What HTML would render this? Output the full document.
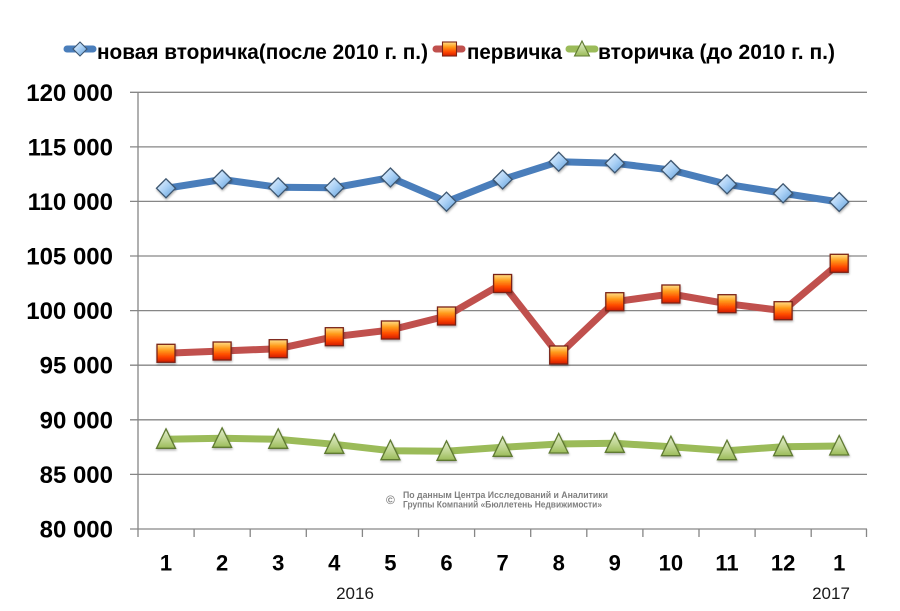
<!DOCTYPE html>
<html>
<head>
<meta charset="utf-8">
<style>
  html,body{margin:0;padding:0;background:#fff;}
  svg{display:block;}
  text{font-family:"Liberation Sans","DejaVu Sans",sans-serif;}
</style>
</head>
<body>
<svg width="900" height="611" viewBox="0 0 900 611" xmlns="http://www.w3.org/2000/svg">
  <defs>
    <linearGradient id="gBlue" x1="0" y1="0" x2="1" y2="1">
      <stop offset="0" stop-color="#eef6ff"/>
      <stop offset="0.5" stop-color="#a9d0f5"/>
      <stop offset="1" stop-color="#5e9bd6"/>
    </linearGradient>
    <linearGradient id="gRed" x1="0" y1="0" x2="0" y2="1">
      <stop offset="0" stop-color="#ffe08a"/>
      <stop offset="0.35" stop-color="#ff9a1a"/>
      <stop offset="0.7" stop-color="#ff4a00"/>
      <stop offset="1" stop-color="#d21a00"/>
    </linearGradient>
    <linearGradient id="gGreen" x1="0" y1="0" x2="0" y2="1">
      <stop offset="0" stop-color="#e4eed0"/>
      <stop offset="0.6" stop-color="#bcd38c"/>
      <stop offset="1" stop-color="#9bbb59"/>
    </linearGradient>
    <filter id="sh" x="-30%" y="-30%" width="160%" height="160%">
      <feDropShadow dx="0.5" dy="1.5" stdDeviation="1" flood-color="#000" flood-opacity="0.3"/>
    </filter>
    <g id="dia"><path d="M0,-9.5 L9.5,0 L0,9.5 L-9.5,0 Z" fill="url(#gBlue)" stroke="#3d5670" stroke-width="1.3"/></g>
    <g id="sq"><rect x="-9" y="-9" width="18" height="18" fill="url(#gRed)" stroke="#7a2414" stroke-width="1.3"/></g>
    <g id="tri"><path d="M0,-10.5 L9.5,9 L-9.5,9 Z" fill="url(#gGreen)" stroke="#5f7a30" stroke-width="1.3"/></g>
  </defs>

  <!-- Gridlines -->
  <g stroke="#868686" stroke-width="1.3">
    <line x1="130" y1="92.3" x2="867" y2="92.3"/>
    <line x1="130" y1="146.9" x2="867" y2="146.9"/>
    <line x1="130" y1="201.4" x2="867" y2="201.4"/>
    <line x1="130" y1="256" x2="867" y2="256"/>
    <line x1="130" y1="310.6" x2="867" y2="310.6"/>
    <line x1="130" y1="365.2" x2="867" y2="365.2"/>
    <line x1="130" y1="419.8" x2="867" y2="419.8"/>
    <line x1="130" y1="474.4" x2="867" y2="474.4"/>
    <line x1="130" y1="529" x2="867" y2="529"/>
    <line x1="138" y1="92.3" x2="138" y2="537"/>
    <!-- x ticks -->
    <line x1="194.1" y1="529" x2="194.1" y2="537"/>
    <line x1="250.2" y1="529" x2="250.2" y2="537"/>
    <line x1="306.3" y1="529" x2="306.3" y2="537"/>
    <line x1="362.4" y1="529" x2="362.4" y2="537"/>
    <line x1="418.5" y1="529" x2="418.5" y2="537"/>
    <line x1="474.6" y1="529" x2="474.6" y2="537"/>
    <line x1="530.7" y1="529" x2="530.7" y2="537"/>
    <line x1="586.8" y1="529" x2="586.8" y2="537"/>
    <line x1="642.9" y1="529" x2="642.9" y2="537"/>
    <line x1="699" y1="529" x2="699" y2="537"/>
    <line x1="755.1" y1="529" x2="755.1" y2="537"/>
    <line x1="811.2" y1="529" x2="811.2" y2="537"/>
    <line x1="866.5" y1="529" x2="866.5" y2="537"/>
  </g>

  <!-- Y labels -->
  <g font-size="24" font-weight="bold" fill="#000" text-anchor="end">
    <text x="113" y="101">120 000</text>
    <text x="113" y="155.5">115 000</text>
    <text x="113" y="210">110 000</text>
    <text x="113" y="264.5">105 000</text>
    <text x="113" y="319">100 000</text>
    <text x="113" y="373.5">95 000</text>
    <text x="113" y="428.5">90 000</text>
    <text x="113" y="483">85 000</text>
    <text x="113" y="537.5">80 000</text>
  </g>

  <!-- X labels -->
  <g font-size="22" font-weight="bold" fill="#000" text-anchor="middle">
    <text x="166" y="570.5">1</text>
    <text x="222.1" y="570.5">2</text>
    <text x="278.2" y="570.5">3</text>
    <text x="334.3" y="570.5">4</text>
    <text x="390.4" y="570.5">5</text>
    <text x="446.5" y="570.5">6</text>
    <text x="502.6" y="570.5">7</text>
    <text x="558.7" y="570.5">8</text>
    <text x="614.8" y="570.5">9</text>
    <text x="670.9" y="570.5">10</text>
    <text x="727" y="570.5">11</text>
    <text x="783.1" y="570.5">12</text>
    <text x="839.2" y="570.5">1</text>
  </g>
  <g font-size="17" fill="#1a1a1a" text-anchor="middle">
    <text x="355" y="599">2016</text>
    <text x="831" y="599">2017</text>
  </g>

  <!-- Watermark -->
  <g fill="#7f7f7f">
    <text x="386" y="504" font-size="12" font-weight="bold">©</text>
    <text x="403" y="498" font-size="9.5" font-weight="bold" textLength="205" lengthAdjust="spacingAndGlyphs">По данным Центра Исследований и Аналитики</text>
    <text x="403" y="507.5" font-size="9.5" font-weight="bold" textLength="199" lengthAdjust="spacingAndGlyphs">Группы Компаний «Бюллетень Недвижимости»</text>
  </g>

  <!-- Series lines -->
  <g fill="none" stroke-width="7" stroke-linejoin="round" stroke-linecap="round">
    <polyline stroke="#4a7ebb" points="166,188.3 222.1,179.5 278.2,187.3 334.3,187.7 390.4,177.5 446.5,201.7 502.6,179.5 558.7,161.7 614.8,163.3 670.9,170 727,184.3 783.1,193.3 839.2,202"/>
    <polyline stroke="#c0504d" points="166,353.3 222.1,351 278.2,348.7 334.3,336.7 390.4,330 446.5,316 502.6,283.5 558.7,355 614.8,301.7 670.9,294 727,303.7 783.1,310.7 839.2,263.3"/>
    <polyline stroke="#9bbb59" points="166,439.3 222.1,438.3 278.2,439.3 334.3,444.3 390.4,450.7 446.5,451.3 502.6,447.3 558.7,444 614.8,443.3 670.9,446.7 727,450.7 783.1,446.7 839.2,446"/>
  </g>

  <!-- Markers -->
  <g filter="url(#sh)">
    <use href="#dia" x="166" y="188.3"/>
    <use href="#dia" x="222.1" y="179.5"/>
    <use href="#dia" x="278.2" y="187.3"/>
    <use href="#dia" x="334.3" y="187.7"/>
    <use href="#dia" x="390.4" y="177.5"/>
    <use href="#dia" x="446.5" y="201.7"/>
    <use href="#dia" x="502.6" y="179.5"/>
    <use href="#dia" x="558.7" y="161.7"/>
    <use href="#dia" x="614.8" y="163.3"/>
    <use href="#dia" x="670.9" y="170"/>
    <use href="#dia" x="727" y="184.3"/>
    <use href="#dia" x="783.1" y="193.3"/>
    <use href="#dia" x="839.2" y="202"/>

    <use href="#sq" x="166" y="353.3"/>
    <use href="#sq" x="222.1" y="351"/>
    <use href="#sq" x="278.2" y="348.7"/>
    <use href="#sq" x="334.3" y="336.7"/>
    <use href="#sq" x="390.4" y="330"/>
    <use href="#sq" x="446.5" y="316"/>
    <use href="#sq" x="502.6" y="283.5"/>
    <use href="#sq" x="558.7" y="355"/>
    <use href="#sq" x="614.8" y="301.7"/>
    <use href="#sq" x="670.9" y="294"/>
    <use href="#sq" x="727" y="303.7"/>
    <use href="#sq" x="783.1" y="310.7"/>
    <use href="#sq" x="839.2" y="263.3"/>

    <use href="#tri" x="166" y="439.3"/>
    <use href="#tri" x="222.1" y="438.3"/>
    <use href="#tri" x="278.2" y="439.3"/>
    <use href="#tri" x="334.3" y="444.3"/>
    <use href="#tri" x="390.4" y="450.7"/>
    <use href="#tri" x="446.5" y="451.3"/>
    <use href="#tri" x="502.6" y="447.3"/>
    <use href="#tri" x="558.7" y="444"/>
    <use href="#tri" x="614.8" y="443.3"/>
    <use href="#tri" x="670.9" y="446.7"/>
    <use href="#tri" x="727" y="450.7"/>
    <use href="#tri" x="783.1" y="446.7"/>
    <use href="#tri" x="839.2" y="446"/>
  </g>

  <!-- Legend -->
  <g stroke-width="7" stroke-linecap="round">
    <line x1="67" y1="49" x2="93" y2="49" stroke="#4a7ebb"/>
    <line x1="436" y1="49" x2="462" y2="49" stroke="#c0504d"/>
    <line x1="569" y1="49" x2="595" y2="49" stroke="#9bbb59"/>
  </g>
  <g>
    <path d="M80,42 L87,49 L80,56 L73,49 Z" fill="url(#gBlue)" stroke="#3d5670" stroke-width="1.1"/>
    <rect x="442.5" y="42" width="14" height="14" fill="url(#gRed)" stroke="#7a2414" stroke-width="1.1"/>
    <path d="M582,41 L589.5,56 L574.5,56 Z" fill="url(#gGreen)" stroke="#5f7a30" stroke-width="1.1"/>
  </g>
  <g font-size="21" font-weight="bold" fill="#000">
    <text x="97" y="59" textLength="331" lengthAdjust="spacingAndGlyphs">новая вторичка(после 2010 г. п.)</text>
    <text x="467" y="59" textLength="95" lengthAdjust="spacingAndGlyphs">первичка</text>
    <text x="598" y="59" textLength="237" lengthAdjust="spacingAndGlyphs">вторичка (до 2010 г. п.)</text>
  </g>
</svg>
</body>
</html>
